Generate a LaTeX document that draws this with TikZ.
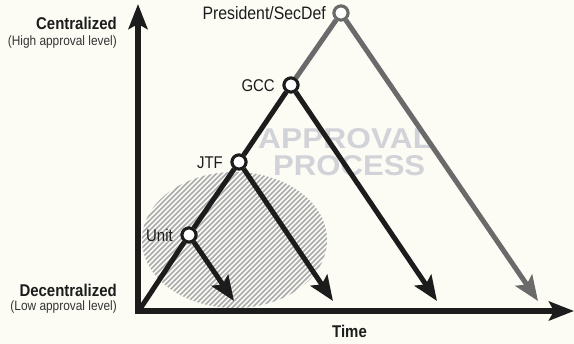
\documentclass[tikz,border=0pt]{standalone}
\usepackage{fontspec}
\setmainfont[FakeStretch=0.88]{Liberation Sans}
\newfontfamily\widefont{Liberation Sans}
\usetikzlibrary{arrows.meta}
\definecolor{bgcol}{HTML}{FCFCF5}
\definecolor{ink}{HTML}{1C1C1C}
\definecolor{greyline}{HTML}{6A6A6A}
\definecolor{hatchcol}{HTML}{A9ABAD}
\definecolor{watermark}{HTML}{D1D3D8}
\definecolor{subtext}{HTML}{333333}
\tikzset{
  axisline/.style={line width=5.5pt, ink, line join=miter, {Stealth[length=25pt,width=19pt,inset=5pt]}-{Stealth[length=25pt,width=19pt,inset=5pt]}},
  treeline/.style={line width=5pt, ink},
  greytree/.style={line width=5pt, greyline},
  branch/.style={line width=5pt, ink, -{Stealth[length=25pt,width=20pt,inset=5pt]}},
  greybranch/.style={line width=5pt, greyline, -{Stealth[length=25pt,width=20pt,inset=5pt]}},
  lvl/.style={circle, fill=white, draw=ink, line width=3pt, minimum size=14pt, inner sep=0pt},
  nodelabel/.style={anchor=base east, inner sep=0pt, text=ink, font=\fontsize{17}{17}\selectfont},
  axistitle/.style={anchor=base east, inner sep=0pt, text=ink, font=\fontsize{17}{17}\selectfont\bfseries},
  axissub/.style={anchor=base east, inner sep=0pt, text=subtext, font=\fontsize{13.5}{13.5}\selectfont},
  hatch/.style={line width=1.7pt, hatchcol},
  wmark/.style={anchor=base west, inner sep=0pt, text=watermark}
}
\begin{document}
\begin{tikzpicture}[x=1pt,y=-1pt]
\fill[bgcol] (0,0) rectangle (574,344);
\useasboundingbox (0,0) rectangle (574,344);
% hatched ellipse
\begin{scope}
  \clip (234.5,240) ellipse [x radius=92.5pt, y radius=68pt];
  \foreach \i in {0,...,75} \draw[hatch] (-30+\i*5,320) -- ++(175,-175);
\end{scope}
% watermark
\node[wmark] (wm1) at (258,148.5) {\resizebox{174pt}{20pt}{\widefont\bfseries APPROVAL}};
\node[wmark] (wm2) at (273,175.5) {\resizebox{152pt}{20pt}{\widefont\bfseries PROCESS}};
% axes
\coordinate (ytop) at (138,4);
\coordinate (corner) at (138,311);
\coordinate (xend) at (574,311);
\draw[axisline] (ytop) -- (corner) -- (xend);
% levels
\coordinate (origin) at (140,309);
\node[lvl, draw=greyline] (pres) at (341,13) {};
\node[lvl] (gcc) at (291,85) {};
\node[lvl] (jtf) at (239,162) {};
\node[lvl] (unit) at (189,235) {};
\coordinate (ua) at (234,301);
\coordinate (ja) at (333,301);
\coordinate (ga) at (437,301);
\coordinate (pa) at (538,301);
\draw[greytree] (gcc) -- (pres);
\draw[greybranch] (pres) -- (pa);
\draw[treeline] (origin) -- (unit) -- (jtf) -- (gcc);
\draw[branch] (unit) -- (ua);
\draw[branch] (jtf) -- (ja);
\draw[branch] (gcc) -- (ga);
% redraw circles on top
\node[lvl, draw=greyline] at (pres) {};
\node[lvl] at (gcc) {};
\node[lvl] at (jtf) {};
\node[lvl] at (unit) {};
% labels
\node[nodelabel, font=\fontsize{18}{18}\selectfont] (presl) at (326,19.5) {President/SecDef};
\node[nodelabel] (gccl) at (275,91.5) {GCC};
\node[nodelabel] (jtfl) at (223,168.5) {JTF};
\node[nodelabel] (unitl) at (173,241.5) {Unit};
\node[axistitle] (cen) at (117,30) {Centralized};
\node[axissub] (cens) at (117,46) {(High approval level)};
\node[axistitle] (dec) at (117,296.5) {Decentralized};
\node[axissub] (decs) at (117,310.5) {(Low approval level)};
\node[anchor=base, inner sep=0pt, text=ink, font=\fontsize{17}{17}\selectfont\bfseries] (time) at (349.5,338) {Time};
\end{tikzpicture}
\end{document}
